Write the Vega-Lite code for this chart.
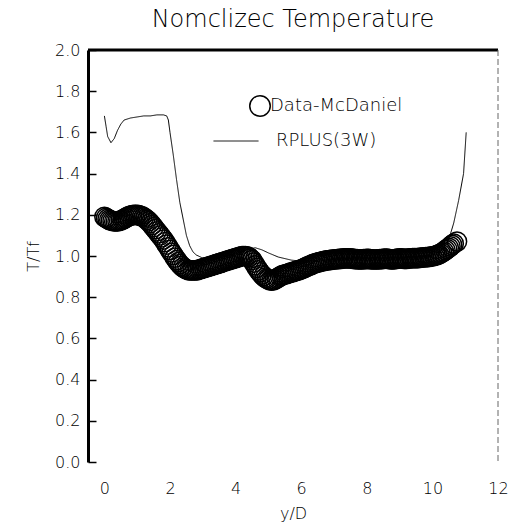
{
  "$schema": "https://vega.github.io/schema/vega-lite/v6.json",
  "width": 410,
  "height": 412,
  "autosize": {"type": "none"},
  "padding": {"left": 88, "top": 50, "right": 21, "bottom": 67},
  "background": "white",
  "title": {
    "text": "Nomclizec Temperature",
    "font": "DejaVu Sans",
    "fontWeight": 200,
    "fontSize": 24,
    "color": "#000000",
    "anchor": "middle",
    "offset": 10
  },
  "config": {
    "view": {"stroke": null},
    "axis": {
      "labelFont": "DejaVu Sans",
      "labelFontWeight": 200,
      "labelFontSize": 16,
      "labelColor": "#000000",
      "titleFont": "DejaVu Sans",
      "titleFontWeight": 200,
      "titleFontSize": 16,
      "titleColor": "#000000",
      "grid": false,
      "labelFlush": false,
      "labelOverlap": false
    },
    "legend": {
      "labelFont": "DejaVu Sans",
      "labelFontWeight": 200,
      "labelFontSize": 18,
      "labelColor": "#000000",
      "padding": 0
    }
  },
  "datasets": {
    "mcdaniel": [
      {"series": "Data-McDaniel", "yD": 0.00, "T": 1.19},
      {"series": "Data-McDaniel", "yD": 0.05, "T": 1.185},
      {"series": "Data-McDaniel", "yD": 0.10, "T": 1.18},
      {"series": "Data-McDaniel", "yD": 0.15, "T": 1.175},
      {"series": "Data-McDaniel", "yD": 0.20, "T": 1.172},
      {"series": "Data-McDaniel", "yD": 0.25, "T": 1.17},
      {"series": "Data-McDaniel", "yD": 0.30, "T": 1.168},
      {"series": "Data-McDaniel", "yD": 0.35, "T": 1.168},
      {"series": "Data-McDaniel", "yD": 0.40, "T": 1.168},
      {"series": "Data-McDaniel", "yD": 0.45, "T": 1.17},
      {"series": "Data-McDaniel", "yD": 0.50, "T": 1.172},
      {"series": "Data-McDaniel", "yD": 0.55, "T": 1.176},
      {"series": "Data-McDaniel", "yD": 0.60, "T": 1.18},
      {"series": "Data-McDaniel", "yD": 0.65, "T": 1.185},
      {"series": "Data-McDaniel", "yD": 0.70, "T": 1.19},
      {"series": "Data-McDaniel", "yD": 0.75, "T": 1.193},
      {"series": "Data-McDaniel", "yD": 0.80, "T": 1.196},
      {"series": "Data-McDaniel", "yD": 0.85, "T": 1.198},
      {"series": "Data-McDaniel", "yD": 0.90, "T": 1.20},
      {"series": "Data-McDaniel", "yD": 0.95, "T": 1.20},
      {"series": "Data-McDaniel", "yD": 1.00, "T": 1.20},
      {"series": "Data-McDaniel", "yD": 1.05, "T": 1.198},
      {"series": "Data-McDaniel", "yD": 1.10, "T": 1.195},
      {"series": "Data-McDaniel", "yD": 1.15, "T": 1.192},
      {"series": "Data-McDaniel", "yD": 1.20, "T": 1.188},
      {"series": "Data-McDaniel", "yD": 1.25, "T": 1.182},
      {"series": "Data-McDaniel", "yD": 1.30, "T": 1.175},
      {"series": "Data-McDaniel", "yD": 1.35, "T": 1.168},
      {"series": "Data-McDaniel", "yD": 1.40, "T": 1.16},
      {"series": "Data-McDaniel", "yD": 1.45, "T": 1.15},
      {"series": "Data-McDaniel", "yD": 1.50, "T": 1.14},
      {"series": "Data-McDaniel", "yD": 1.55, "T": 1.13},
      {"series": "Data-McDaniel", "yD": 1.60, "T": 1.12},
      {"series": "Data-McDaniel", "yD": 1.65, "T": 1.11},
      {"series": "Data-McDaniel", "yD": 1.70, "T": 1.10},
      {"series": "Data-McDaniel", "yD": 1.75, "T": 1.09},
      {"series": "Data-McDaniel", "yD": 1.80, "T": 1.08},
      {"series": "Data-McDaniel", "yD": 1.85, "T": 1.067},
      {"series": "Data-McDaniel", "yD": 1.90, "T": 1.055},
      {"series": "Data-McDaniel", "yD": 1.95, "T": 1.042},
      {"series": "Data-McDaniel", "yD": 2.00, "T": 1.03},
      {"series": "Data-McDaniel", "yD": 2.05, "T": 1.017},
      {"series": "Data-McDaniel", "yD": 2.10, "T": 1.005},
      {"series": "Data-McDaniel", "yD": 2.15, "T": 0.992},
      {"series": "Data-McDaniel", "yD": 2.20, "T": 0.98},
      {"series": "Data-McDaniel", "yD": 2.25, "T": 0.97},
      {"series": "Data-McDaniel", "yD": 2.30, "T": 0.96},
      {"series": "Data-McDaniel", "yD": 2.35, "T": 0.952},
      {"series": "Data-McDaniel", "yD": 2.40, "T": 0.945},
      {"series": "Data-McDaniel", "yD": 2.45, "T": 0.94},
      {"series": "Data-McDaniel", "yD": 2.50, "T": 0.935},
      {"series": "Data-McDaniel", "yD": 2.55, "T": 0.932},
      {"series": "Data-McDaniel", "yD": 2.60, "T": 0.93},
      {"series": "Data-McDaniel", "yD": 2.65, "T": 0.93},
      {"series": "Data-McDaniel", "yD": 2.70, "T": 0.93},
      {"series": "Data-McDaniel", "yD": 2.75, "T": 0.93},
      {"series": "Data-McDaniel", "yD": 2.80, "T": 0.93},
      {"series": "Data-McDaniel", "yD": 2.85, "T": 0.932},
      {"series": "Data-McDaniel", "yD": 2.90, "T": 0.935},
      {"series": "Data-McDaniel", "yD": 2.95, "T": 0.937},
      {"series": "Data-McDaniel", "yD": 3.00, "T": 0.94},
      {"series": "Data-McDaniel", "yD": 3.05, "T": 0.942},
      {"series": "Data-McDaniel", "yD": 3.10, "T": 0.945},
      {"series": "Data-McDaniel", "yD": 3.15, "T": 0.947},
      {"series": "Data-McDaniel", "yD": 3.20, "T": 0.95},
      {"series": "Data-McDaniel", "yD": 3.25, "T": 0.952},
      {"series": "Data-McDaniel", "yD": 3.30, "T": 0.955},
      {"series": "Data-McDaniel", "yD": 3.35, "T": 0.957},
      {"series": "Data-McDaniel", "yD": 3.40, "T": 0.96},
      {"series": "Data-McDaniel", "yD": 3.45, "T": 0.962},
      {"series": "Data-McDaniel", "yD": 3.50, "T": 0.965},
      {"series": "Data-McDaniel", "yD": 3.55, "T": 0.967},
      {"series": "Data-McDaniel", "yD": 3.60, "T": 0.97},
      {"series": "Data-McDaniel", "yD": 3.65, "T": 0.972},
      {"series": "Data-McDaniel", "yD": 3.70, "T": 0.975},
      {"series": "Data-McDaniel", "yD": 3.75, "T": 0.977},
      {"series": "Data-McDaniel", "yD": 3.80, "T": 0.98},
      {"series": "Data-McDaniel", "yD": 3.85, "T": 0.982},
      {"series": "Data-McDaniel", "yD": 3.90, "T": 0.985},
      {"series": "Data-McDaniel", "yD": 3.95, "T": 0.987},
      {"series": "Data-McDaniel", "yD": 4.00, "T": 0.99},
      {"series": "Data-McDaniel", "yD": 4.05, "T": 0.992},
      {"series": "Data-McDaniel", "yD": 4.10, "T": 0.995},
      {"series": "Data-McDaniel", "yD": 4.15, "T": 0.997},
      {"series": "Data-McDaniel", "yD": 4.20, "T": 1.0},
      {"series": "Data-McDaniel", "yD": 4.25, "T": 1.0},
      {"series": "Data-McDaniel", "yD": 4.30, "T": 1.0},
      {"series": "Data-McDaniel", "yD": 4.35, "T": 0.998},
      {"series": "Data-McDaniel", "yD": 4.40, "T": 0.995},
      {"series": "Data-McDaniel", "yD": 4.45, "T": 0.988},
      {"series": "Data-McDaniel", "yD": 4.50, "T": 0.98},
      {"series": "Data-McDaniel", "yD": 4.55, "T": 0.968},
      {"series": "Data-McDaniel", "yD": 4.60, "T": 0.955},
      {"series": "Data-McDaniel", "yD": 4.65, "T": 0.942},
      {"series": "Data-McDaniel", "yD": 4.70, "T": 0.93},
      {"series": "Data-McDaniel", "yD": 4.75, "T": 0.92},
      {"series": "Data-McDaniel", "yD": 4.80, "T": 0.91},
      {"series": "Data-McDaniel", "yD": 4.85, "T": 0.902},
      {"series": "Data-McDaniel", "yD": 4.90, "T": 0.895},
      {"series": "Data-McDaniel", "yD": 4.95, "T": 0.89},
      {"series": "Data-McDaniel", "yD": 5.00, "T": 0.885},
      {"series": "Data-McDaniel", "yD": 5.05, "T": 0.882},
      {"series": "Data-McDaniel", "yD": 5.10, "T": 0.88},
      {"series": "Data-McDaniel", "yD": 5.15, "T": 0.882},
      {"series": "Data-McDaniel", "yD": 5.20, "T": 0.885},
      {"series": "Data-McDaniel", "yD": 5.25, "T": 0.89},
      {"series": "Data-McDaniel", "yD": 5.30, "T": 0.895},
      {"series": "Data-McDaniel", "yD": 5.35, "T": 0.9},
      {"series": "Data-McDaniel", "yD": 5.40, "T": 0.905},
      {"series": "Data-McDaniel", "yD": 5.45, "T": 0.908},
      {"series": "Data-McDaniel", "yD": 5.50, "T": 0.91},
      {"series": "Data-McDaniel", "yD": 5.55, "T": 0.912},
      {"series": "Data-McDaniel", "yD": 5.60, "T": 0.915},
      {"series": "Data-McDaniel", "yD": 5.65, "T": 0.918},
      {"series": "Data-McDaniel", "yD": 5.70, "T": 0.92},
      {"series": "Data-McDaniel", "yD": 5.75, "T": 0.922},
      {"series": "Data-McDaniel", "yD": 5.80, "T": 0.925},
      {"series": "Data-McDaniel", "yD": 5.85, "T": 0.928},
      {"series": "Data-McDaniel", "yD": 5.90, "T": 0.93},
      {"series": "Data-McDaniel", "yD": 5.95, "T": 0.932},
      {"series": "Data-McDaniel", "yD": 6.00, "T": 0.935},
      {"series": "Data-McDaniel", "yD": 6.05, "T": 0.938},
      {"series": "Data-McDaniel", "yD": 6.10, "T": 0.942},
      {"series": "Data-McDaniel", "yD": 6.15, "T": 0.946},
      {"series": "Data-McDaniel", "yD": 6.20, "T": 0.95},
      {"series": "Data-McDaniel", "yD": 6.25, "T": 0.953},
      {"series": "Data-McDaniel", "yD": 6.30, "T": 0.956},
      {"series": "Data-McDaniel", "yD": 6.35, "T": 0.96},
      {"series": "Data-McDaniel", "yD": 6.40, "T": 0.963},
      {"series": "Data-McDaniel", "yD": 6.45, "T": 0.966},
      {"series": "Data-McDaniel", "yD": 6.50, "T": 0.968},
      {"series": "Data-McDaniel", "yD": 6.55, "T": 0.97},
      {"series": "Data-McDaniel", "yD": 6.60, "T": 0.972},
      {"series": "Data-McDaniel", "yD": 6.65, "T": 0.974},
      {"series": "Data-McDaniel", "yD": 6.70, "T": 0.976},
      {"series": "Data-McDaniel", "yD": 6.75, "T": 0.978},
      {"series": "Data-McDaniel", "yD": 6.80, "T": 0.979},
      {"series": "Data-McDaniel", "yD": 6.85, "T": 0.98},
      {"series": "Data-McDaniel", "yD": 6.90, "T": 0.981},
      {"series": "Data-McDaniel", "yD": 6.95, "T": 0.982},
      {"series": "Data-McDaniel", "yD": 7.00, "T": 0.983},
      {"series": "Data-McDaniel", "yD": 7.05, "T": 0.984},
      {"series": "Data-McDaniel", "yD": 7.10, "T": 0.985},
      {"series": "Data-McDaniel", "yD": 7.15, "T": 0.986},
      {"series": "Data-McDaniel", "yD": 7.20, "T": 0.986},
      {"series": "Data-McDaniel", "yD": 7.25, "T": 0.987},
      {"series": "Data-McDaniel", "yD": 7.30, "T": 0.988},
      {"series": "Data-McDaniel", "yD": 7.35, "T": 0.988},
      {"series": "Data-McDaniel", "yD": 7.40, "T": 0.989},
      {"series": "Data-McDaniel", "yD": 7.45, "T": 0.989},
      {"series": "Data-McDaniel", "yD": 7.50, "T": 0.988},
      {"series": "Data-McDaniel", "yD": 7.55, "T": 0.987},
      {"series": "Data-McDaniel", "yD": 7.60, "T": 0.986},
      {"series": "Data-McDaniel", "yD": 7.65, "T": 0.985},
      {"series": "Data-McDaniel", "yD": 7.70, "T": 0.985},
      {"series": "Data-McDaniel", "yD": 7.75, "T": 0.984},
      {"series": "Data-McDaniel", "yD": 7.80, "T": 0.984},
      {"series": "Data-McDaniel", "yD": 7.85, "T": 0.984},
      {"series": "Data-McDaniel", "yD": 7.90, "T": 0.985},
      {"series": "Data-McDaniel", "yD": 7.95, "T": 0.985},
      {"series": "Data-McDaniel", "yD": 8.00, "T": 0.986},
      {"series": "Data-McDaniel", "yD": 8.05, "T": 0.986},
      {"series": "Data-McDaniel", "yD": 8.10, "T": 0.985},
      {"series": "Data-McDaniel", "yD": 8.15, "T": 0.984},
      {"series": "Data-McDaniel", "yD": 8.20, "T": 0.983},
      {"series": "Data-McDaniel", "yD": 8.25, "T": 0.983},
      {"series": "Data-McDaniel", "yD": 8.30, "T": 0.983},
      {"series": "Data-McDaniel", "yD": 8.35, "T": 0.984},
      {"series": "Data-McDaniel", "yD": 8.40, "T": 0.985},
      {"series": "Data-McDaniel", "yD": 8.45, "T": 0.985},
      {"series": "Data-McDaniel", "yD": 8.50, "T": 0.986},
      {"series": "Data-McDaniel", "yD": 8.55, "T": 0.987},
      {"series": "Data-McDaniel", "yD": 8.60, "T": 0.987},
      {"series": "Data-McDaniel", "yD": 8.65, "T": 0.986},
      {"series": "Data-McDaniel", "yD": 8.70, "T": 0.985},
      {"series": "Data-McDaniel", "yD": 8.75, "T": 0.984},
      {"series": "Data-McDaniel", "yD": 8.80, "T": 0.984},
      {"series": "Data-McDaniel", "yD": 8.85, "T": 0.985},
      {"series": "Data-McDaniel", "yD": 8.90, "T": 0.986},
      {"series": "Data-McDaniel", "yD": 8.95, "T": 0.987},
      {"series": "Data-McDaniel", "yD": 9.00, "T": 0.988},
      {"series": "Data-McDaniel", "yD": 9.05, "T": 0.988},
      {"series": "Data-McDaniel", "yD": 9.10, "T": 0.987},
      {"series": "Data-McDaniel", "yD": 9.15, "T": 0.986},
      {"series": "Data-McDaniel", "yD": 9.20, "T": 0.986},
      {"series": "Data-McDaniel", "yD": 9.25, "T": 0.987},
      {"series": "Data-McDaniel", "yD": 9.30, "T": 0.988},
      {"series": "Data-McDaniel", "yD": 9.35, "T": 0.989},
      {"series": "Data-McDaniel", "yD": 9.40, "T": 0.99},
      {"series": "Data-McDaniel", "yD": 9.45, "T": 0.99},
      {"series": "Data-McDaniel", "yD": 9.50, "T": 0.99},
      {"series": "Data-McDaniel", "yD": 9.55, "T": 0.99},
      {"series": "Data-McDaniel", "yD": 9.60, "T": 0.991},
      {"series": "Data-McDaniel", "yD": 9.65, "T": 0.992},
      {"series": "Data-McDaniel", "yD": 9.70, "T": 0.992},
      {"series": "Data-McDaniel", "yD": 9.75, "T": 0.993},
      {"series": "Data-McDaniel", "yD": 9.80, "T": 0.994},
      {"series": "Data-McDaniel", "yD": 9.85, "T": 0.995},
      {"series": "Data-McDaniel", "yD": 9.90, "T": 0.996},
      {"series": "Data-McDaniel", "yD": 9.95, "T": 0.997},
      {"series": "Data-McDaniel", "yD": 10.00, "T": 0.998},
      {"series": "Data-McDaniel", "yD": 10.05, "T": 1.0},
      {"series": "Data-McDaniel", "yD": 10.10, "T": 1.002},
      {"series": "Data-McDaniel", "yD": 10.15, "T": 1.005},
      {"series": "Data-McDaniel", "yD": 10.20, "T": 1.008},
      {"series": "Data-McDaniel", "yD": 10.25, "T": 1.012},
      {"series": "Data-McDaniel", "yD": 10.30, "T": 1.017},
      {"series": "Data-McDaniel", "yD": 10.35, "T": 1.022},
      {"series": "Data-McDaniel", "yD": 10.40, "T": 1.028},
      {"series": "Data-McDaniel", "yD": 10.45, "T": 1.034},
      {"series": "Data-McDaniel", "yD": 10.50, "T": 1.04},
      {"series": "Data-McDaniel", "yD": 10.55, "T": 1.047},
      {"series": "Data-McDaniel", "yD": 10.60, "T": 1.054},
      {"series": "Data-McDaniel", "yD": 10.65, "T": 1.06},
      {"series": "Data-McDaniel", "yD": 10.75, "T": 1.07}
    ],
    "rplus": [
      {"series": "RPLUS(3W)", "yD": 0.00, "T": 1.68},
      {"series": "RPLUS(3W)", "yD": 0.05, "T": 1.63},
      {"series": "RPLUS(3W)", "yD": 0.10, "T": 1.58},
      {"series": "RPLUS(3W)", "yD": 0.20, "T": 1.55},
      {"series": "RPLUS(3W)", "yD": 0.30, "T": 1.57},
      {"series": "RPLUS(3W)", "yD": 0.40, "T": 1.61},
      {"series": "RPLUS(3W)", "yD": 0.50, "T": 1.64},
      {"series": "RPLUS(3W)", "yD": 0.60, "T": 1.66},
      {"series": "RPLUS(3W)", "yD": 0.80, "T": 1.67},
      {"series": "RPLUS(3W)", "yD": 1.00, "T": 1.675},
      {"series": "RPLUS(3W)", "yD": 1.20, "T": 1.68},
      {"series": "RPLUS(3W)", "yD": 1.40, "T": 1.68},
      {"series": "RPLUS(3W)", "yD": 1.60, "T": 1.685},
      {"series": "RPLUS(3W)", "yD": 1.80, "T": 1.685},
      {"series": "RPLUS(3W)", "yD": 1.90, "T": 1.68},
      {"series": "RPLUS(3W)", "yD": 1.95, "T": 1.66},
      {"series": "RPLUS(3W)", "yD": 2.00, "T": 1.60},
      {"series": "RPLUS(3W)", "yD": 2.10, "T": 1.49},
      {"series": "RPLUS(3W)", "yD": 2.20, "T": 1.37},
      {"series": "RPLUS(3W)", "yD": 2.30, "T": 1.26},
      {"series": "RPLUS(3W)", "yD": 2.40, "T": 1.18},
      {"series": "RPLUS(3W)", "yD": 2.50, "T": 1.10},
      {"series": "RPLUS(3W)", "yD": 2.60, "T": 1.05},
      {"series": "RPLUS(3W)", "yD": 2.70, "T": 1.02},
      {"series": "RPLUS(3W)", "yD": 2.80, "T": 1.005},
      {"series": "RPLUS(3W)", "yD": 3.00, "T": 0.99},
      {"series": "RPLUS(3W)", "yD": 3.20, "T": 0.985},
      {"series": "RPLUS(3W)", "yD": 3.50, "T": 0.99},
      {"series": "RPLUS(3W)", "yD": 4.00, "T": 1.01},
      {"series": "RPLUS(3W)", "yD": 4.30, "T": 1.03},
      {"series": "RPLUS(3W)", "yD": 4.60, "T": 1.04},
      {"series": "RPLUS(3W)", "yD": 4.80, "T": 1.03},
      {"series": "RPLUS(3W)", "yD": 5.00, "T": 1.015},
      {"series": "RPLUS(3W)", "yD": 5.30, "T": 0.995},
      {"series": "RPLUS(3W)", "yD": 5.70, "T": 0.98},
      {"series": "RPLUS(3W)", "yD": 6.00, "T": 0.975},
      {"series": "RPLUS(3W)", "yD": 6.50, "T": 0.975},
      {"series": "RPLUS(3W)", "yD": 7.00, "T": 0.985},
      {"series": "RPLUS(3W)", "yD": 8.00, "T": 0.99},
      {"series": "RPLUS(3W)", "yD": 9.00, "T": 0.99},
      {"series": "RPLUS(3W)", "yD": 10.00, "T": 1.0},
      {"series": "RPLUS(3W)", "yD": 10.30, "T": 1.03},
      {"series": "RPLUS(3W)", "yD": 10.50, "T": 1.08},
      {"series": "RPLUS(3W)", "yD": 10.65, "T": 1.16},
      {"series": "RPLUS(3W)", "yD": 10.80, "T": 1.27},
      {"series": "RPLUS(3W)", "yD": 10.95, "T": 1.40},
      {"series": "RPLUS(3W)", "yD": 11.03, "T": 1.60}
    ]
  },
  "layer": [
    {
      "data": {"name": "mcdaniel"},
      "mark": {"type": "point", "shape": "circle", "filled": false, "size": 370, "strokeWidth": 1.5, "color": "black", "opacity": 1},
      "encoding": {
        "x": {
          "field": "yD",
          "type": "quantitative",
          "scale": {"domain": [-0.5, 12], "nice": false, "zero": false},
          "axis": {
            "title": "y/D",
            "values": [0, 2, 4, 6, 8, 10, 12],
            "domain": false,
            "ticks": false,
            "labelPadding": 18,
            "titlePadding": 9
          }
        },
        "y": {
          "field": "T",
          "type": "quantitative",
          "scale": {"domain": [0, 2], "nice": false, "zero": false},
          "axis": {
            "title": "T/Tf",
            "values": [0, 0.2, 0.4, 0.6, 0.8, 1.0, 1.2, 1.4, 1.6, 1.8, 2.0],
            "format": ".1f",
            "domainColor": "black",
            "domainWidth": 3,
            "tickColor": "black",
            "tickWidth": 1.5,
            "tickSize": -8,
            "labelPadding": 16,
            "titlePadding": 13
          }
        },
        "shape": {
          "field": "series",
          "type": "nominal",
          "scale": {"domain": ["Data-McDaniel"], "range": ["circle"]},
          "legend": {
            "title": null,
            "orient": "none",
            "legendX": 161,
            "legendY": 45,
            "symbolSize": 420,
            "symbolStrokeWidth": 1.5,
            "symbolStrokeColor": "black",
            "symbolFillColor": "transparent",
            "labelOffset": -1
          }
        }
      }
    },
    {
      "data": {"name": "rplus"},
      "mark": {"type": "line", "color": "black", "strokeWidth": 1},
      "encoding": {
        "x": {"field": "yD", "type": "quantitative"},
        "y": {"field": "T", "type": "quantitative"},
        "strokeDash": {
          "field": "series",
          "type": "nominal",
          "scale": {"domain": ["RPLUS(3W)"], "range": [[1, 0]]},
          "legend": {
            "title": null,
            "orient": "none",
            "legendX": 125,
            "legendY": 68,
            "symbolType": "stroke",
            "symbolSize": 2025,
            "symbolStrokeWidth": 1,
            "symbolStrokeColor": "black",
            "labelOffset": 17
          }
        }
      }
    },
    {
      "data": {"values": [{}]},
      "mark": {"type": "rule", "color": "black", "strokeWidth": 3},
      "encoding": {"y": {"datum": 2}}
    },
    {
      "data": {"values": [{}]},
      "mark": {"type": "rule", "color": "#666666", "strokeWidth": 1, "strokeDash": [6, 3]},
      "encoding": {"x": {"datum": 12}}
    }
  ]
}
